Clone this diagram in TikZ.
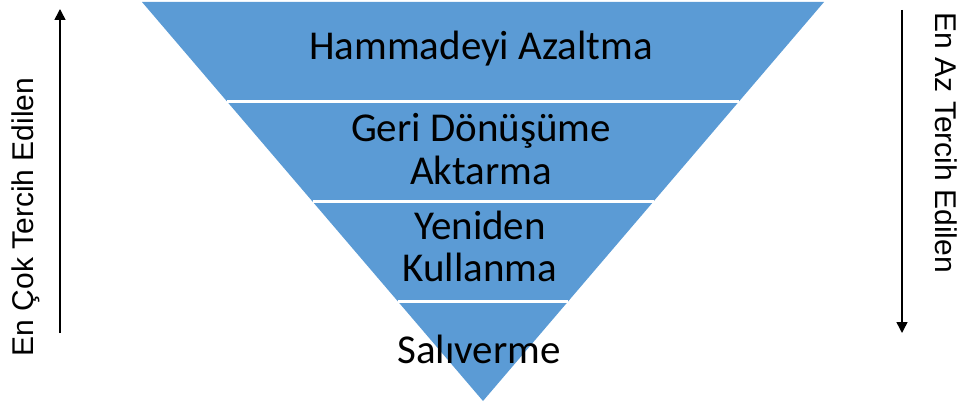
\documentclass[tikz,border=0pt]{standalone}
\usepackage{fontspec}
\newfontfamily\carlito{Carlito}
\newfontfamily\arialf{Liberation Sans}
\usetikzlibrary{arrows.meta,calc}
\definecolor{wblue}{RGB}{91,155,213}
\tikzset{
  band/.style={font=\carlito\fontsize{41}{43}\selectfont, text=black, align=center, inner sep=0pt},
  sidelbl/.style={font=\arialf\fontsize{30}{34}\selectfont, text=black, inner sep=0pt},
  sidearrow/.style={line width=1.5pt, -{Triangle[length=11pt,width=11pt]}},
  sep/.style={white, line width=3pt}
}
\begin{document}
\begin{tikzpicture}[x=1pt,y=-1pt]
\useasboundingbox (0,0) rectangle (967,406);
\coordinate (tl) at (142,2);
\coordinate (tr) at (824,2);
\coordinate (apex) at (483,401);
\fill[wblue] (tl) -- (tr) -- (apex) -- cycle;
\foreach \t in {0.25,0.5,0.75}{
  \draw[sep] ($(tl)!\t!(apex)$) -- ($(tr)!\t!(apex)$);
}
\node[band, anchor=base] (b1) at (481,60) {Hammadeyi Azaltma};
\node[band, anchor=base] (b2) at (481,185) {Geri Dönüşüme\\Aktarma};
\node[band, anchor=base] (b3) at (480,282) {Yeniden\\Kullanma};
\node[band, anchor=base] (b4) at (479,363) {Salıverme};
% side arrows
\coordinate (la0) at (60,333);
\coordinate (la1) at (60,9);
\draw[sidearrow] (la0) -- (la1);
\coordinate (ra0) at (902,10);
\coordinate (ra1) at (902,333);
\draw[sidearrow] (ra0) -- (ra1);
\node[sidelbl, rotate=90, anchor=base] (ll) at (33,217) {En Çok Tercih Edilen};
\node[sidelbl, rotate=-90, anchor=base] (rl) at (935,143) {En Az Tercih Edilen};
\end{tikzpicture}
\end{document}
